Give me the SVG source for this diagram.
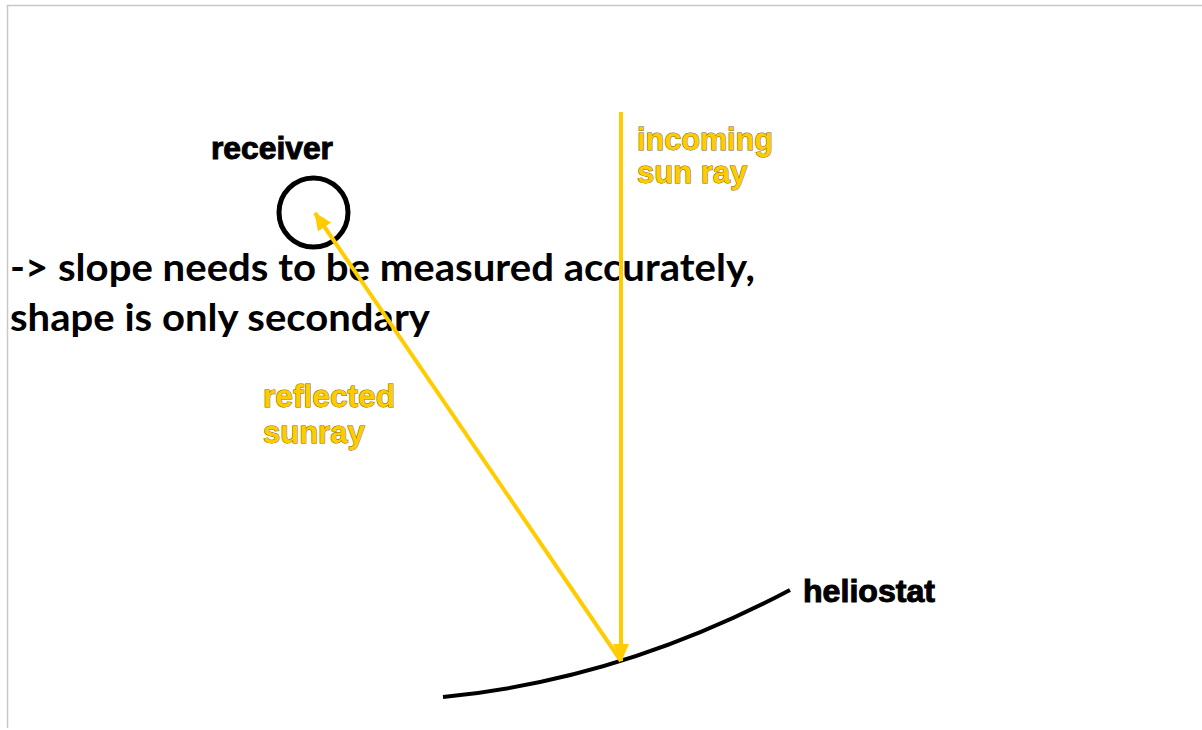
<svg xmlns="http://www.w3.org/2000/svg" width="1202" height="730" viewBox="0 0 1202 730">
  <style>
    .lbl { font-family: "Liberation Sans", Arial, sans-serif; font-weight: bold; font-size: 31px; }
    .blk { fill: #000; stroke: #000; stroke-width: 1; }
    .yel { fill: #FFCC00; stroke: #7a6410; stroke-width: 1; paint-order: stroke; }
    .note { font-family: Lato, "Open Sans", sans-serif; font-weight: bold; font-size: 38px; fill: #000; }
    .ray { stroke: #FFCC00; stroke-width: 4; fill: none; }
  </style>
  <defs>
    <marker id="ah" markerUnits="userSpaceOnUse" viewBox="0 0 18 16" refX="17" refY="8" markerWidth="18" markerHeight="16" orient="auto">
      <path d="M0,0 L18,8 L0,16 Z" fill="#FFCC00"/>
    </marker>
  </defs>
  <rect x="0" y="0" width="1202" height="730" fill="#fff"/>
  <path d="M7.5,728 V5.5 H1202" fill="none" stroke="#c8c8c8" stroke-width="1.5"/>

  <g id="note">
    <text class="note" x="10" y="281" textLength="745" lengthAdjust="spacingAndGlyphs">-&gt; slope needs to be measured accurately,</text>
    <text class="note" x="10" y="331" textLength="420" lengthAdjust="spacingAndGlyphs">shape is only secondary</text>
  </g>

  <g id="receiver">
    <circle cx="313.5" cy="212.5" r="34.5" fill="none" stroke="#000" stroke-width="5"/>
    <text class="lbl blk" x="211" y="159" textLength="122" lengthAdjust="spacingAndGlyphs">receiver</text>
  </g>

  <g id="heliostat">
    <path d="M443,697 Q620,680 790,590" fill="none" stroke="#000" stroke-width="4"/>
    <text class="lbl blk" x="803" y="602" textLength="132" lengthAdjust="spacingAndGlyphs">heliostat</text>
  </g>

  <g id="connectors">
    <line class="ray" x1="621" y1="112" x2="621" y2="661" marker-end="url(#ah)"/>
    <line class="ray" x1="621" y1="661" x2="315" y2="213" marker-end="url(#ah)"/>
  </g>

  <g id="labels">
    <text class="lbl yel" x="637" y="150" textLength="136" lengthAdjust="spacingAndGlyphs">incoming</text>
    <text class="lbl yel" x="637" y="183">sun ray</text>
    <text class="lbl yel" x="263" y="407" textLength="132" lengthAdjust="spacingAndGlyphs">reflected</text>
    <text class="lbl yel" x="263" y="443">sunray</text>
  </g>
</svg>
